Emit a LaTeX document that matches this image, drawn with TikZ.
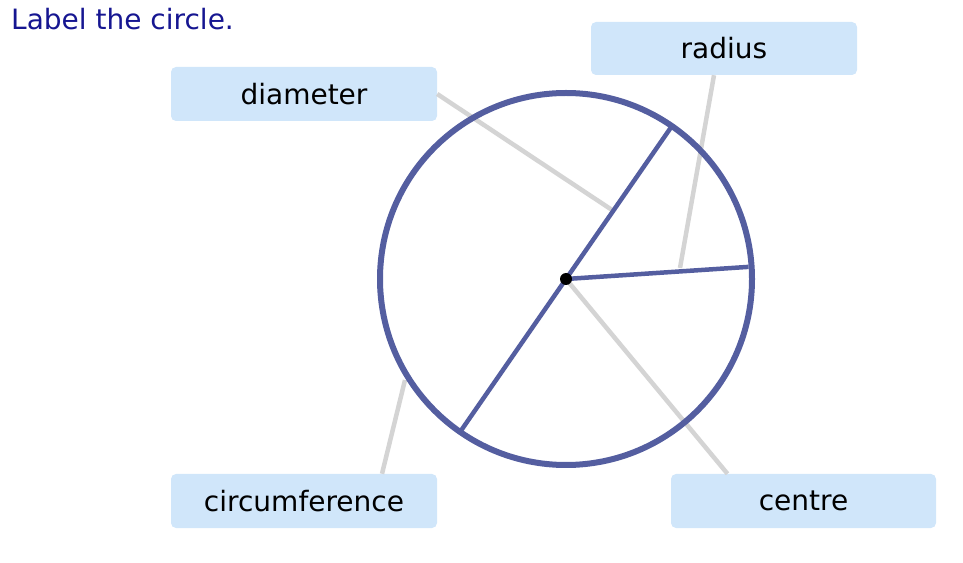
\documentclass[tikz,border=0pt]{standalone}
\usepackage{fontspec}
\setmainfont{DejaVu Sans}
\usetikzlibrary{positioning,calc}
\definecolor{navy}{RGB}{22,22,145}
\definecolor{rim}{RGB}{84,94,160}
\definecolor{pale}{RGB}{208,230,250}
\definecolor{mist}{RGB}{212,212,212}
\tikzset{
  tagbox/.style={fill=pale,rounded corners=5pt,minimum width=266pt,minimum height=54pt,
    inner sep=0pt,font=\fontsize{28}{32}\selectfont,text=black},
  link/.style={draw=mist,line width=4.5pt},
  chord/.style={draw=rim,line width=4.5pt},
}
\begin{document}
\begin{tikzpicture}[x=1pt,y=1pt]
  \useasboundingbox (0,0) rectangle (963,562);
  \node[anchor=base west,text=navy,font=\fontsize{28}{32}\selectfont,inner sep=0pt] (title) at (11,532) {Label the circle.};
  % label boxes
  \node[tagbox] (diam) at (304,468) {diameter};
  \node[tagbox,minimum height=53pt] (rad) at (724,513.5) {radius};
  \node[tagbox] (circ) at (304,61) {circumference};
  \node[tagbox,minimum width=265pt] (cen) at (803.5,61) {centre};
  % circle
  \coordinate (o) at (566,283);
  \coordinate (dtip) at (612,352);
  \coordinate (rtip) at (680,294);
  \coordinate (ctip) at (405,182);
  \draw[link] (diam.east) -- (dtip);
  \draw[link] ([xshift=-10pt]rad.south) -- (rtip);
  \draw[link] ([xshift=78pt]circ.north) -- (ctip);
  \draw[link] ([xshift=-76pt]cen.north) -- (o);
  \draw[rim,line width=6pt] (o) circle (186);
  \draw[chord] ($(o)+(55.3:186)$) coordinate (d1) -- ($(o)+(235.3:186)$) coordinate (d2);
  \draw[chord] (o) -- ($(o)+(3.8:183)$) coordinate (r1);
  \fill[black] (o) circle (6);
\end{tikzpicture}
\end{document}
